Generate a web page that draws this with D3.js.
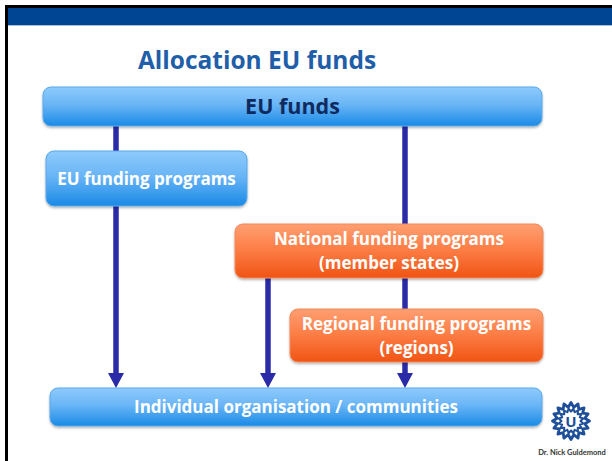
<!DOCTYPE html>
<html>
<head>
<meta charset="utf-8">
<script src="https://cdn.jsdelivr.net/npm/d3@7"></script>
<style>
  body { margin: 0; background: #fff; }
  svg { display: block; font-family: "Open Sans", Lato, sans-serif; }
</style>
</head>
<body>
<div id="chart"></div>
<script>
// diagram content
let titleText = "Allocation EU funds";
let boxLabels = [
    ["EU funds"],
    ["EU funding programs"],
    ["National funding programs", "(member states)"],
    ["Regional funding programs", "(regions)"],
    ["Individual organisation / communities"]
];
let boxTones = ["blue", "blue", "orange", "orange", "blue"];
// money flows: source box -> target box, drawn in a lane
let flowFrom = [0, 0, 2];
let flowTo   = [4, 4, 4];
let flowLane = [0, 2, 1];
let credit = "Dr. Nick Guldemond";

// layout (pixels)
let W = 612, H = 461;
let boxRects = [
    {x0: 43,  x1: 542, y0: 87,  y1: 126},
    {x0: 46,  x1: 247, y0: 151, y1: 206},
    {x0: 235, x1: 543, y0: 224, y1: 278},
    {x0: 290, x1: 543, y0: 309, y1: 362},
    {x0: 50,  x1: 542, y0: 388, y1: 426}
];
let laneX = d3.scaleOrdinal().domain([0, 1, 2]).range([116, 268, 405]);

let svg = d3.select("#chart").append("svg")
    .attr("width", W)
    .attr("height", H);

let defs = svg.append("defs");

let gBlue = defs.append("linearGradient").attr("id", "gBlue")
    .attr("x1", 0).attr("y1", 0).attr("x2", 0).attr("y2", 1);
gBlue.append("stop").attr("offset", "0%").attr("stop-color", "#8ecafc");
gBlue.append("stop").attr("offset", "45%").attr("stop-color", "#6ab5f6");
gBlue.append("stop").attr("offset", "100%").attr("stop-color", "#1a8ae6");

let gOrange = defs.append("linearGradient").attr("id", "gOrange")
    .attr("x1", 0).attr("y1", 0).attr("x2", 0).attr("y2", 1);
gOrange.append("stop").attr("offset", "0%").attr("stop-color", "#ff9f72");
gOrange.append("stop").attr("offset", "45%").attr("stop-color", "#fd7f48");
gOrange.append("stop").attr("offset", "100%").attr("stop-color", "#f05414");

let shadow = defs.append("filter").attr("id", "shadow")
    .attr("x", "-5%").attr("y", "-10%").attr("width", "110%").attr("height", "130%");
shadow.append("feDropShadow")
    .attr("dx", 0).attr("dy", 1.5)
    .attr("stdDeviation", 1.2)
    .attr("flood-color", "#000")
    .attr("flood-opacity", 0.3);

// slide frame
svg.append("rect").attr("x", 5).attr("y", 5).attr("width", W).attr("height", 3).attr("fill", "#000");
svg.append("rect").attr("x", 5).attr("y", 5).attr("width", 3).attr("height", H).attr("fill", "#000");
svg.append("rect").attr("x", 8).attr("y", 8).attr("width", W).attr("height", 17).attr("fill", "#004494");
svg.append("rect").attr("x", 8).attr("y", 25).attr("width", W).attr("height", 1).attr("fill", "#a9bedb");

svg.append("text")
    .attr("x", 257)
    .attr("y", 69)
    .attr("text-anchor", "middle")
    .attr("font-size", 24.5)
    .attr("font-weight", "bold")
    .attr("fill", "#1f5ea8")
    .text(titleText);

// flow lines (behind boxes)
let arrowH = 15, arrowW = 16;
let flows = flowFrom.map(function(f, i) {
    return {from: f, to: flowTo[i], lane: flowLane[i]};
});
let flowG = svg.append("g");
flows.forEach(function(d) {
    let x = laneX(d.lane);
    let yStart = boxRects[d.from].y1;
    let yTip = boxRects[d.to].y0;
    flowG.append("line")
        .attr("x1", x).attr("x2", x)
        .attr("y1", yStart).attr("y2", yTip - arrowH + 1)
        .attr("stroke", "#2b2ba8")
        .attr("stroke-width", 5.5);
    flowG.append("path")
        .attr("d", "M" + (x - arrowW / 2) + "," + (yTip - arrowH) +
            "L" + (x + arrowW / 2) + "," + (yTip - arrowH) +
            "L" + x + "," + yTip + "Z")
        .attr("fill", "#2b2ba8");
});

// boxes
let boxes = svg.selectAll(".box")
    .data(boxLabels)
    .enter().append("g")
    .attr("class", "box");

boxes.append("rect")
    .attr("x", function(d, i) { return boxRects[i].x0; })
    .attr("y", function(d, i) { return boxRects[i].y0; })
    .attr("width", function(d, i) { return boxRects[i].x1 - boxRects[i].x0; })
    .attr("height", function(d, i) { return boxRects[i].y1 - boxRects[i].y0; })
    .attr("rx", 8)
    .attr("fill", function(d, i) { return boxTones[i] == "blue" ? "url(#gBlue)" : "url(#gOrange)"; })
    .attr("stroke", function(d, i) { return boxTones[i] == "blue" ? "#5aa9ea" : "#f08a5c"; })
    .attr("stroke-width", 1)
    .attr("filter", "url(#shadow)");

boxes.each(function(lines, i) {
    let r = boxRects[i];
    let cx = (r.x0 + r.x1) / 2;
    let lineGap = 24;
    let first = (r.y0 + r.y1) / 2 + 6 - (lines.length - 1) * lineGap / 2;
    let t = d3.select(this).append("text")
        .attr("text-anchor", "middle")
        .attr("font-weight", "bold")
        .attr("font-size", i == 0 ? 21.5 : 17)
        .attr("fill", i == 0 ? "#0f2a5e" : "#ffffff");
    lines.forEach(function(s, j) {
        t.append("tspan")
            .attr("x", cx)
            .attr("y", first + j * lineGap + (i == 0 ? 1 : 0))
            .text(s);
    });
});

// university logo
let logo = svg.append("g").attr("transform", "translate(571,421)");
function zigzag(rOut, rIn, n) {
    let pts = d3.range(n * 2).map(function(k) {
        return [k * Math.PI / n, k % 2 == 0 ? rOut : rIn];
    });
    return d3.lineRadial().curve(d3.curveLinearClosed)(pts);
}
logo.append("path").attr("d", zigzag(18.5, 14, 16))
    .attr("fill", "none").attr("stroke", "#1f4f9a").attr("stroke-width", 2.8)
    .attr("stroke-linejoin", "round");
logo.append("path").attr("d", zigzag(12.5, 9.5, 16))
    .attr("fill", "none").attr("stroke", "#1f4f9a").attr("stroke-width", 2)
    .attr("stroke-linejoin", "round")
    .attr("transform", "rotate(11.25)");
logo.append("text")
    .attr("y", 5.5)
    .attr("text-anchor", "middle")
    .attr("font-size", 15)
    .attr("font-weight", "bold")
    .attr("fill", "#1f4f9a")
    .text("U");

svg.append("text")
    .attr("x", 572)
    .attr("y", 455)
    .attr("text-anchor", "middle")
    .attr("font-family", "Lato, sans-serif")
    .attr("font-size", 7.5)
    .attr("font-weight", "bold")
    .attr("fill", "#333")
    .text(credit);
</script>
</body>
</html>
